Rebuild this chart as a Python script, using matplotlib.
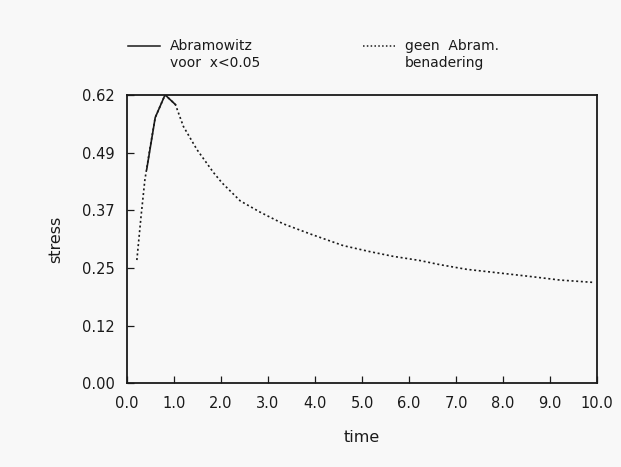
import matplotlib.pyplot as plt
from matplotlib.lines import Line2D

# stress vs time
t_geen = [0.21, 0.30, 0.38, 0.48, 0.60, 0.81, 1.03, 1.20, 1.49, 1.84, 2.02, 2.41,
          2.83, 3.32, 3.90, 4.60, 5.17, 5.66, 6.23, 6.66, 7.23, 7.94, 8.64, 9.21, 9.92]
s_geen = [0.265, 0.36, 0.437, 0.50, 0.571, 0.620, 0.599, 0.552, 0.502, 0.453, 0.431, 0.392,
          0.368, 0.343, 0.321, 0.296, 0.283, 0.273, 0.264, 0.255, 0.245, 0.237, 0.229, 0.222, 0.217]

t_abram = [0.42, 0.60, 0.81, 1.03]
s_abram = [0.46, 0.571, 0.620, 0.599]

yticks = [0.0, 0.124, 0.248, 0.372, 0.496, 0.62]
ylabels = ['0.00', '0.12', '0.25', '0.37', '0.49', '0.62']
xticks = [0, 1, 2, 3, 4, 5, 6, 7, 8, 9, 10]
xlabels = ['%.1f' % v for v in xticks]

bg = '#f8f8f8'
ink = '#1a1a1a'
fig = plt.figure(figsize=(6.21, 4.67), dpi=100, facecolor=bg)
ax = fig.add_axes([0.2045, 0.179, 0.757, 0.618], facecolor=bg)

ax.plot(t_geen, s_geen, color=ink, lw=1.2, ls=(0, (1.2, 1.6)))
ax.plot(t_abram, s_abram, color=ink, lw=1.2)

ax.set_xlim(0, 10)
ax.set_ylim(0, 0.62)
ax.set_xticks(xticks)
ax.set_xticklabels(xlabels)
ax.set_yticks(yticks)
ax.set_yticklabels(ylabels)
ax.tick_params(direction='in', length=5, width=0.9, labelsize=10.5, pad=9, colors=ink)
for sp in ax.spines.values():
    sp.set_linewidth(1.3)
    sp.set_color(ink)

ax.set_xlabel('time', fontsize=11.5, labelpad=14, color=ink)
ax.set_ylabel('stress', fontsize=11.5, labelpad=13, color=ink)

# legend above the plot, drawn by hand like the original
fig.add_artist(Line2D([128/621, 160/621], [1 - 46/467, 1 - 46/467], color=ink, lw=1.1))
fig.text(170/621, 1 - 46/467, 'Abramowitz', fontsize=10, va='center', color=ink)
fig.text(170/621, 1 - 63/467, 'voor  x<0.05', fontsize=10, va='center', color=ink)
fig.add_artist(Line2D([363/621, 395/621], [1 - 46/467, 1 - 46/467], color=ink, lw=1.1,
                      ls=(0, (1.0, 1.5))))
fig.text(405/621, 1 - 46/467, 'geen  Abram.', fontsize=10, va='center', color=ink)
fig.text(405/621, 1 - 63/467, 'benadering', fontsize=10, va='center', color=ink)

fig.savefig('out.png', dpi=100, facecolor=bg)
